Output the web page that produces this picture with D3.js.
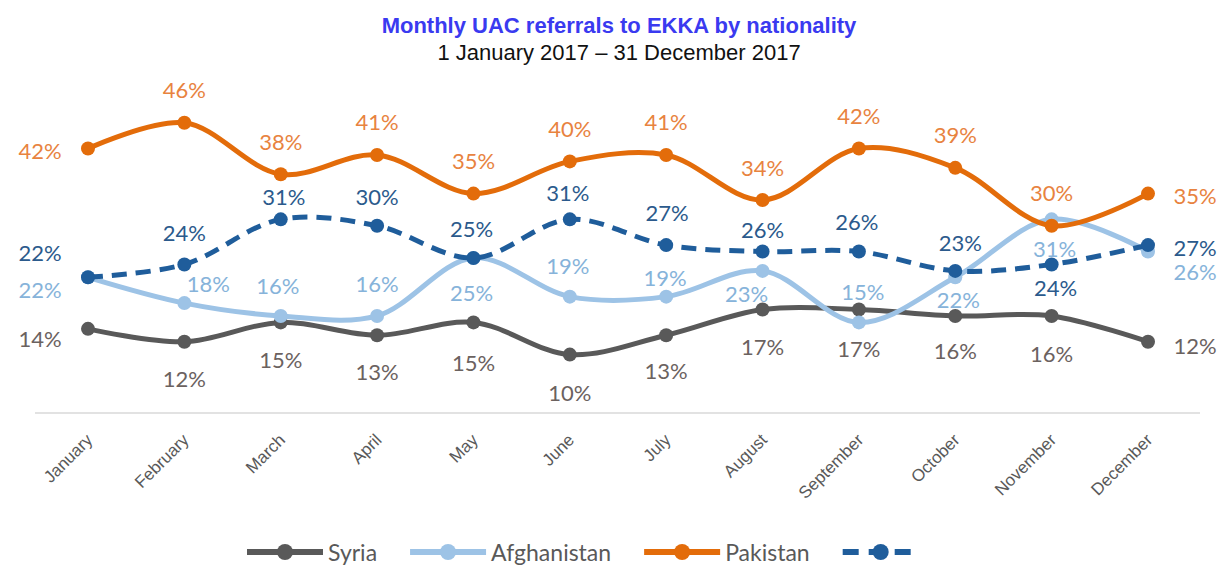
<!DOCTYPE html>
<html>
<head>
<meta charset="utf-8">
<script src="https://cdn.jsdelivr.net/npm/d3@7"></script>
<style>
  body { margin: 0; background: #fff; }
  svg { display: block; }
</style>
</head>
<body>
<svg id="chart"></svg>
<script>
// Data (share of monthly referrals, %)
const months = ["January", "February", "March", "April", "May", "June",
  "July", "August", "September", "October", "November", "December"];
const syria = [14, 12, 15, 13, 15, 10, 13, 17, 17, 16, 16, 12];
const afghanistan = [22, 18, 16, 16, 25, 19, 19, 23, 15, 22, 31, 26];
const pakistan = [42, 46, 38, 41, 35, 40, 41, 34, 42, 39, 30, 35];
const other = [22, 24, 31, 30, 25, 31, 27, 26, 26, 23, 24, 27];

const width = 1223;
const height = 568;

// Label nudges (dx, dy from the point) so labels sit like in the original
const nudgePak = [[-48, 2], [0, -33], [0, -33], [0, -33], [0, -33], [0, -33],
  [0, -33], [0, -33], [0, -33], [0, -33], [0, -33], [47, 2]];
const nudgeOther = [[-48, -25], [0, -32], [3, -23], [0, -29], [-2, -30], [-2, -27],
  [1, -33], [0, -22], [-2, -30], [5, -28], [4, 23], [47, 2]];
const nudgeAfg = [[-48, 12], [24, -20], [-3, -30], [0, -32], [-2, 34], [-2, -31],
  [-1, -19], [-16, 23], [4, -31], [3, 22], [3, 29], [47, 20]];
const nudgeSyria = [[-48, 10], [0, 37], [0, 37], [0, 36], [0, 40], [0, 38],
  [0, 35], [0, 37], [0, 39], [0, 35], [0, 38], [47, 4]];

const series = [
  { name: "Syria", values: syria, color: "#595959", text: "#6b625f", nudge: nudgeSyria, dash: null },
  { name: "Afghanistan", values: afghanistan, color: "#9dc3e6", text: "#86b3da", nudge: nudgeAfg, dash: null },
  { name: "Pakistan", values: pakistan, color: "#e36c0a", text: "#e8833f", nudge: nudgePak, dash: null },
  { name: "", values: other, color: "#1f5d9b", text: "#2b5a8c", nudge: nudgeOther, dash: "15,9" }
];

const svg = d3.select("#chart")
  .attr("width", width)
  .attr("height", height)
  .style("font-family", "Lato, 'Open Sans', sans-serif");

// Scales
const x = d3.scalePoint().domain(months).range([88, 1148]);
const y = d3.scaleLinear().domain([0, 50]).range([419, 97]);

// Title
svg.append("text")
  .attr("x", 619).attr("y", 33)
  .attr("text-anchor", "middle")
  .style("font-family", "'Liberation Sans', Arial, sans-serif")
  .style("font-weight", "bold")
  .style("font-size", "22px")
  .attr("fill", "#3a3af0")
  .text("Monthly UAC referrals to EKKA by nationality");

svg.append("text")
  .attr("x", 619).attr("y", 60)
  .attr("text-anchor", "middle")
  .style("font-family", "'Liberation Sans', Arial, sans-serif")
  .style("font-size", "22px")
  .attr("fill", "#111")
  .text("1 January 2017 \u2013 31 December 2017");

// X axis
const xAxis = svg.append("g")
  .attr("transform", "translate(0,413)")
  .call(d3.axisBottom(x).tickSize(0).tickPadding(0));
xAxis.select(".domain").remove();
xAxis.append("line")
  .attr("x1", 35).attr("x2", 1200)
  .attr("stroke", "#d9d9d9").attr("stroke-width", 1.5);
xAxis.selectAll(".tick text")
  .attr("text-anchor", "end")
  .attr("dy", 0)
  .attr("transform", "translate(5,28) rotate(-45)")
  .style("font-family", "'Liberation Sans', Arial, sans-serif")
  .style("font-size", "17px")
  .attr("fill", "#595959");

// Lines
const line = d3.line()
  .x((d, i) => x(months[i]))
  .y(d => y(d))
  .curve(d3.curveCatmullRom.alpha(0.5));

series.forEach(s => {
  const g = svg.append("g");
  g.append("path")
    .attr("d", line(s.values))
    .attr("fill", "none")
    .attr("stroke", s.color)
    .attr("stroke-width", 5)
    .attr("stroke-dasharray", s.dash)
    .attr("stroke-linecap", s.dash ? "butt" : "round");

  g.selectAll("circle")
    .data(s.values)
    .enter()
    .append("circle")
    .attr("cx", (d, i) => x(months[i]))
    .attr("cy", d => y(d))
    .attr("r", 7)
    .attr("fill", s.color);
});

// Value labels
series.forEach(s => {
  svg.append("g")
    .selectAll("text")
    .data(s.values)
    .enter()
    .append("text")
    .attr("x", (d, i) => x(months[i]) + s.nudge[i][0])
    .attr("y", (d, i) => y(d) + s.nudge[i][1])
    .attr("text-anchor", "middle")
    .attr("dominant-baseline", "central")
    .style("font-size", "22px")
    .attr("fill", s.text)
    .text(d => d + "%");
});

// Legend
const legend = svg.append("g").attr("transform", "translate(0,552)");
let lx = 247;
series.forEach(s => {
  legend.append("line")
    .attr("x1", lx).attr("x2", lx + 76)
    .attr("stroke", s.color)
    .attr("stroke-width", 6)
    .attr("stroke-dasharray", s.dash ? "16,10" : null);
  legend.append("circle")
    .attr("cx", lx + 38).attr("r", 8)
    .attr("fill", s.color);
  lx += 81;
  if (s.name) {
    const t = legend.append("text")
      .attr("x", lx)
      .attr("dominant-baseline", "central")
      .style("font-size", "23px")
      .attr("fill", "#595959")
      .text(s.name);
    lx += t.node().getComputedTextLength() + 33;
  }
});
</script>
</body>
</html>
